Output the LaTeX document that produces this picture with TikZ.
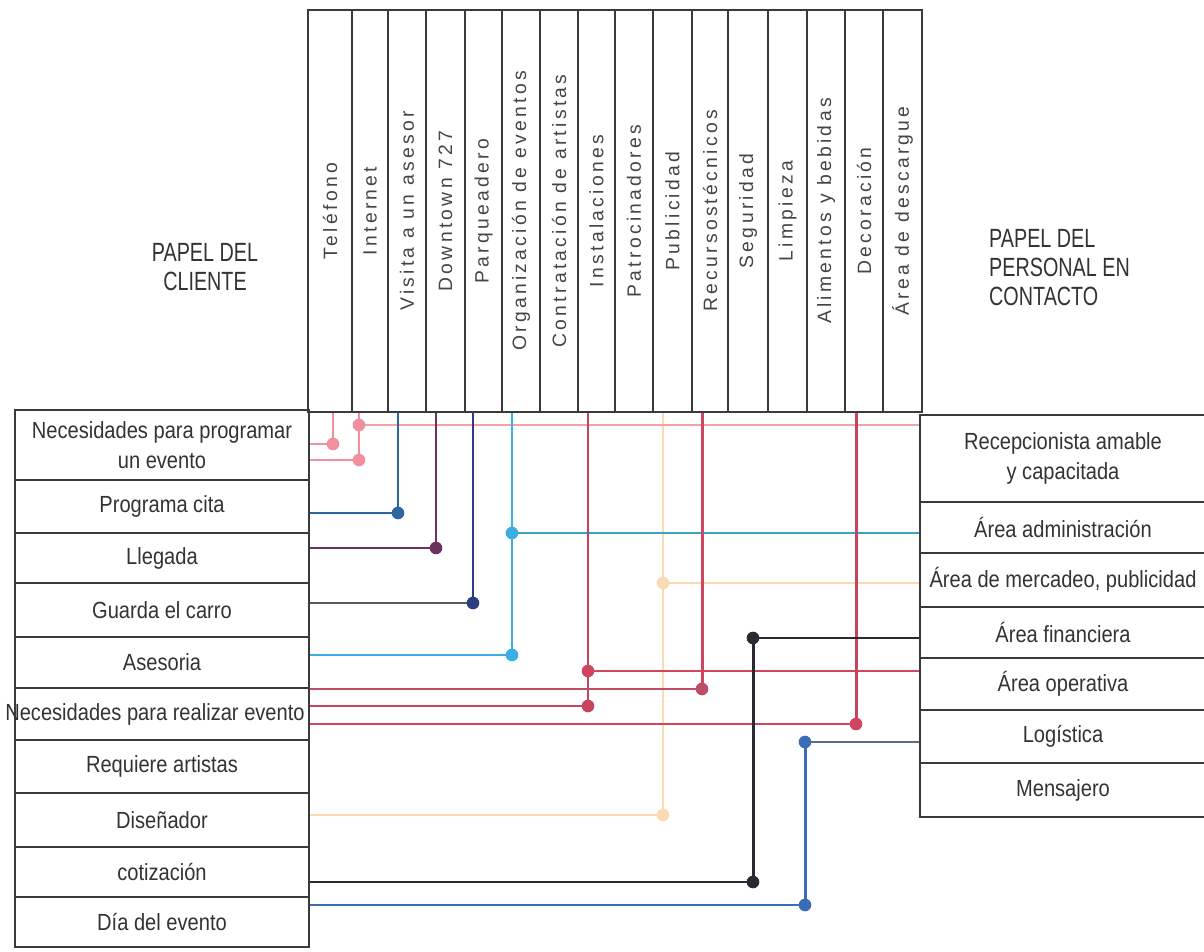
\documentclass[tikz,border=0pt]{standalone}
\usepackage{graphicx}
\usepackage{fontspec}
\setmainfont{Liberation Sans}
\newfontfamily\boxfont[FakeStretch=0.86]{Liberation Sans}
\newfontfamily\titlefont[FakeStretch=0.75]{Liberation Sans}
\newfontfamily\colfont[LetterSpace=17]{Liberation Sans}

\definecolor{boxline}{HTML}{3A3A3A}
\definecolor{txt}{HTML}{333333}
\definecolor{coltxt}{HTML}{454545}
\definecolor{pinkc}{HTML}{F0909E}
\definecolor{pinkl}{HTML}{F2A3AA}
\definecolor{visblue}{HTML}{2E66A0}
\definecolor{purp}{HTML}{6E3262}
\definecolor{grayc}{HTML}{5A5A5A}
\definecolor{navy}{HTML}{2C3E80}
\definecolor{lblue}{HTML}{3BAEE3}
\definecolor{teal}{HTML}{3AA3C2}
\definecolor{redA}{HTML}{C4465E}
\definecolor{redB}{HTML}{BE4E66}
\definecolor{redC}{HTML}{D04560}
\definecolor{peach}{HTML}{FBD9B5}
\definecolor{darkc}{HTML}{2B2931}
\definecolor{bluec}{HTML}{3A6DB5}
\definecolor{slate}{HTML}{5B6C8C}

\newcommand{\dotat}[2]{\fill[#1] (#2) circle[radius=3.6pt];}

\begin{document}
\begin{tikzpicture}[x=0.02cm, y=-0.02cm,
  colbox/.style={draw=boxline, line width=0.7pt, inner sep=0pt,
    minimum height=8.04cm, text=coltxt, font=\colfont\fontsize{11}{13}\selectfont},
  lbox/.style={draw=boxline, line width=0.7pt, inner sep=0pt, minimum width=5.88cm,
    text=txt, align=center, font=\boxfont\fontsize{13.3}{17}\selectfont},
  rbox/.style={draw=boxline, line width=0.7pt, inner sep=0pt, minimum width=5.72cm,
    text=txt, align=center, font=\boxfont\fontsize{13.3}{17}\selectfont},
  title/.style={text=txt, font=\titlefont\fontsize{15}{16.5}\selectfont},
  conn/.style={line width=1.7pt},
  thinconn/.style={line width=1.2pt}]

\useasboundingbox (0,0) rectangle (1204,952);
\fill[white] (0,0) rectangle (1204,952);
\clip (0,0) rectangle (1204,952);

% service elements (column headers)
\foreach \n/\a/\b/\t in {0/308/352/Teléfono, 1/352/388/Internet,
  2/388/426/Visita a un asesor, 3/426/465/Downtown 727, 4/465/502/Parqueadero,
  5/502/540/Organización de eventos, 6/540/578/Contratación de artistas,
  7/578/615/Instalaciones, 8/615/653/Patrocinadores, 9/653/692/Publicidad,
  10/692/728/Recursostécnicos, 11/728/768/Seguridad, 12/768/807/Limpieza,
  13/807/845/Alimentos y bebidas, 14/845/883/Decoración, 15/883/922/Área de descargue}
  \node[colbox, minimum width={(\b-\a)*0.02cm}] (col\n) at ({(\a+\b)/2},211) {\rotatebox{90}{\t}};

% titles
\node[title, align=center] (tcli) at (205,267) {PAPEL DEL\\CLIENTE};
\node[title, align=left, anchor=west] (tper) at (983,268) {PAPEL DEL\\PERSONAL EN\\CONTACTO};

% client actions
\node[lbox, minimum height=1.40cm] (l1) at (162,445) {Necesidades para programar\\un evento};
\node[lbox, minimum height=1.06cm] (l2) at (162,506.5) {Programa cita};
\node[lbox, minimum height=1.00cm] (l3) at (162,558) {Llegada};
\node[lbox, minimum height=1.08cm] (l4) at (162,610) {Guarda el carro};
\node[lbox, minimum height=1.02cm] (l5) at (162,662.5) {Asesoria};
\node[lbox, minimum height=1.04cm] (l6) at (162,714) {\makebox[0pt]{\hspace*{-8pt}Necesidades para realizar evento}};
\node[lbox, minimum height=1.06cm] (l7) at (162,766.5) {Requiere artistas};
\node[lbox, minimum height=1.08cm] (l8) at (162,820) {Diseñador};
\node[lbox, minimum height=1.00cm] (l9) at (162,872) {cotización};
\node[lbox, minimum height=1.00cm] (l10) at (162,922) {Día del evento};

% contact personnel
\node[rbox, minimum height=1.74cm] (r1) at (1063,458.5) {Recepcionista amable\\y capacitada};
\node[rbox, minimum height=1.02cm] (r2) at (1063,527.5) {Área administración};
\node[rbox, minimum height=1.08cm] (r3) at (1063,580) {Área de mercadeo, publicidad};
\node[rbox, minimum height=1.02cm] (r4) at (1063,632.5) {Área financiera};
\node[rbox, minimum height=1.04cm] (r5) at (1063,684) {Área operativa};
\node[rbox, minimum height=1.06cm] (r6) at (1063,736.5) {Logística};
\node[rbox, minimum height=1.08cm] (r7) at (1063,790) {Mensajero};

% junction points
\coordinate (dT) at (333,444);
\coordinate (dIa) at (359,425);
\coordinate (dIb) at (359,460);
\coordinate (dV) at (398,513);
\coordinate (dD) at (436,548);
\coordinate (dP) at (473,603);
\coordinate (dOa) at (512,533);
\coordinate (dOb) at (512,655);
\coordinate (dSa) at (588,671);
\coordinate (dSb) at (588,706);
\coordinate (dR) at (702,689);
\coordinate (dC) at (856,724);
\coordinate (dUa) at (663,583);
\coordinate (dUb) at (663,815);
\coordinate (dFa) at (753,638);
\coordinate (dFb) at (753,882);
\coordinate (dLa) at (805,742);
\coordinate (dLb) at (805,905);

% Publicidad
\draw[conn, peach] (l8.east |- dUb) -- (dUb);
\draw[thinconn, peach] (dUb) -- (dUb |- col9.south);
\draw[conn, peach] (dUa) -- (dUa -| r3.west);
\dotat{peach}{dUa}
\dotat{peach}{dUb}

% Teléfono and Internet
\draw[conn, pinkl] (dIa) -- (dIa -| r1.west);
\draw[conn, pinkc] (l1.east |- dT) -- (dT) -- (dT |- col0.south);
\draw[conn, pinkc] (l1.east |- dIb) -- (dIb) -- (dIb |- col1.south);
\dotat{pinkc}{dT}
\dotat{pinkc}{dIa}
\dotat{pinkc}{dIb}

% Organización de eventos
\draw[conn, teal] (dOa) -- (dOa -| r2.west);
\draw[conn, lblue] (l5.east |- dOb) -- (dOb) -- (dOb |- col5.south);
\dotat{lblue}{dOa}
\dotat{lblue}{dOb}

% Visita, Downtown, Parqueadero
\draw[conn, visblue] (l2.east |- dV) -- (dV) -- (dV |- col2.south);
\dotat{visblue}{dV}
\draw[conn, purp] (l3.east |- dD) -- (dD) -- (dD |- col3.south);
\dotat{purp}{dD}
\draw[thinconn, grayc] (l4.east |- dP) -- (dP);
\draw[conn, navy] (dP) -- (dP |- col4.south);
\dotat{navy}{dP}

% Instalaciones, Recursos técnicos, Decoración
\draw[conn, redC] (dSa) -- (dSa -| r5.west);
\draw[conn, redB] (l6.east |- dR) -- (dR);
\draw[conn, redA] (l6.east |- dSb) -- (dSb);
\draw[conn, redC] (l6.east |- dC) -- (dC);
\draw[conn, redA] (dSb) -- (dSb |- col7.south);
\draw[conn, redC] (dR) -- (dR |- col10.south);
\draw[conn, redA] (dC) -- (dC |- col14.south);
\dotat{redC}{dSa}
\dotat{redA}{dSb}
\dotat{redB}{dR}
\dotat{redC}{dC}

% cotización to Área financiera
\draw[conn, darkc] (l9.east |- dFb) -- (dFb) -- (dFa) -- (dFa -| r4.west);
\dotat{darkc}{dFa}
\dotat{darkc}{dFb}

% Día del evento to Logística
\draw[conn, slate] (dLa) -- (dLa -| r6.west);
\draw[conn, bluec] (l10.east |- dLb) -- (dLb) -- (dLa);
\dotat{bluec}{dLa}
\dotat{bluec}{dLb}

\end{tikzpicture}
\end{document}
